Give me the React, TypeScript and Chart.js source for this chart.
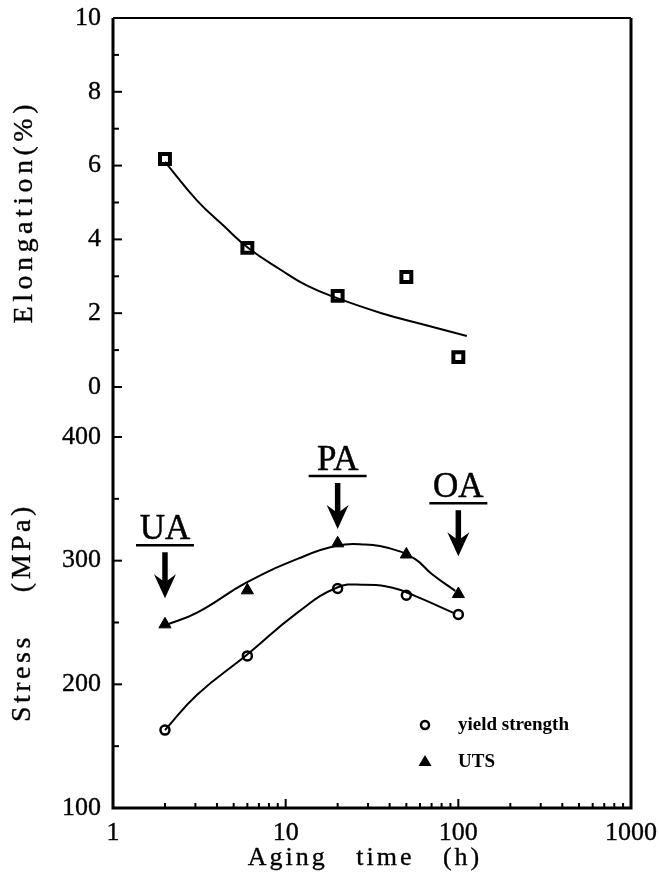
import React, { useEffect, useRef } from 'react';
import { Chart, registerables } from 'chart.js';

Chart.register(...registerables);

// ---- data ----
const agingTimes = [2, 6, 20, 50, 100];
const elongation = [6.18, 3.77, 2.47, 2.98, 0.81];
const yieldStrength = [163, 223, 277.5, 272, 256.5];
const utsValues = [248.5, 276, 314, 305, 273];

// hand-drawn trend curves
const elongFitX = [2, 3.07, 4.39, 6.1, 9.4, 13.4, 20.1, 35.9, 64.3, 112];
const elongFitY = [6.1, 5.05, 4.36, 3.76, 3.17, 2.74, 2.4, 2.0, 1.68, 1.38];
const utsFitX = [2, 3.07, 5.95, 11.7, 19.9, 28.7, 41.1, 56, 70.2, 95.9];
const utsFitY = [247.7, 258, 282.4, 301.4, 312.2, 313, 309.5, 301.4, 289.2, 275.6];
const yieldFitX = [2, 3.07, 5.99, 11.7, 19.9, 28.7, 41.1, 56, 95.9];
const yieldFitY = [163, 191.6, 224.1, 258, 278.3, 280.5, 278.3, 271.5, 257.2];

// tick labels
const xTickValues = [1, 10, 100, 1000];
const elongTickValues = [0, 2, 4, 6, 8, 10];
const stressTickValues = [100, 200, 300, 400];

// ageing stage annotations
const stageLabels = ['UA', 'PA', 'OA'];
const stageTimes = [2, 20, 100];
const stageLabelStress = [327, 383, 361];

const toXY = (xs: number[], ys: number[]) => xs.map((x, i) => ({ x, y: ys[i] }));

const SERIF = '"Liberation Serif", "Times New Roman", serif';

function heavyText(ctx: CanvasRenderingContext2D, s: string, x: number, y: number, w = 0.35) {
  ctx.fillText(s, x, y);
  ctx.save();
  ctx.lineWidth = w;
  ctx.lineJoin = 'round';
  ctx.strokeText(s, x, y);
  ctx.restore();
}

const decorPlugin = {
  id: 'decor',
  afterDraw(chart: any) {
    const ctx: CanvasRenderingContext2D = chart.ctx;
    const { left, right, top, bottom } = chart.chartArea;
    const xs = chart.scales.x;
    const yE = chart.scales.yE;
    const yS = chart.scales.yS;
    ctx.save();
    ctx.strokeStyle = '#000';
    ctx.fillStyle = '#000';
    ctx.lineCap = 'butt';

    // frame
    ctx.lineWidth = 2;
    ctx.beginPath();
    ctx.moveTo(left, top);
    ctx.lineTo(right, top);
    ctx.stroke();
    ctx.lineWidth = 3;
    ctx.beginPath();
    ctx.moveTo(right, top);
    ctx.lineTo(right, bottom);
    ctx.lineTo(left, bottom);
    ctx.lineTo(left, top);
    ctx.stroke();

    // left ticks (inward)
    ctx.lineWidth = 2;
    for (let v = 0; v <= 10; v += 1) {
      const y = yE.getPixelForValue(v);
      const len = v % 2 === 0 ? 9 : 6;
      ctx.beginPath();
      ctx.moveTo(left, y);
      ctx.lineTo(left + len, y);
      ctx.stroke();
    }
    for (let v = 100; v <= 400; v += 50) {
      const y = yS.getPixelForValue(v);
      const len = v % 100 === 0 ? 9 : 6;
      ctx.beginPath();
      ctx.moveTo(left, y);
      ctx.lineTo(left + len, y);
      ctx.stroke();
    }
    // bottom ticks (inward)
    for (const d of [1, 10, 100]) {
      for (let m = 1; m <= 9; m++) {
        const v = d * m;
        if (v <= 1) continue;
        const x = xs.getPixelForValue(v);
        const len = m === 1 ? 9 : 5;
        ctx.beginPath();
        ctx.moveTo(x, bottom);
        ctx.lineTo(x, bottom - len);
        ctx.stroke();
      }
    }

    // tick labels
    ctx.font = `26px ${SERIF}`;
    ctx.textAlign = 'right';
    ctx.textBaseline = 'middle';
    elongTickValues.forEach((v) => heavyText(ctx, String(v), left - 12, yE.getPixelForValue(v)));
    stressTickValues.forEach((v) => heavyText(ctx, String(v), left - 12, yS.getPixelForValue(v)));
    ctx.textAlign = 'center';
    xTickValues.forEach((v) => heavyText(ctx, String(v), xs.getPixelForValue(v), bottom + 25));

    // axis titles
    (ctx as any).letterSpacing = '3px';
    heavyText(ctx, 'Aging   time   (h)', (left + right) / 2 - 7, bottom + 50);
    ctx.font = `28px ${SERIF}`;
    (ctx as any).letterSpacing = '4.5px';
    ctx.save();
    ctx.translate(25, yE.getPixelForValue(4.75));
    ctx.rotate(-Math.PI / 2);
    heavyText(ctx, 'Elongation(%)', 0, 0);
    ctx.restore();
    (ctx as any).letterSpacing = '3.5px';
    ctx.save();
    ctx.translate(23, yS.getPixelForValue(258));
    ctx.rotate(-Math.PI / 2);
    heavyText(ctx, 'Stress    (MPa)', 0, 0);
    ctx.restore();
    (ctx as any).letterSpacing = '0px';

    // stage annotations
    ctx.font = `35px ${SERIF}`;
    stageLabels.forEach((lab, i) => {
      const cx = xs.getPixelForValue(stageTimes[i]);
      const ly = yS.getPixelForValue(stageLabelStress[i]);
      ctx.textAlign = 'center';
      ctx.textBaseline = 'alphabetic';
      heavyText(ctx, lab, cx, ly + 12, 0.5);
      ctx.lineWidth = 2.5;
      ctx.beginPath();
      ctx.moveTo(cx - 29, ly + 18);
      ctx.lineTo(cx + 29, ly + 18);
      ctx.stroke();
      // arrow
      const y1 = ly + 25;
      const y2 = ly + 71;
      ctx.lineWidth = 5.5;
      ctx.beginPath();
      ctx.moveTo(cx, y1);
      ctx.lineTo(cx, y2 - 14);
      ctx.stroke();
      ctx.beginPath();
      ctx.moveTo(cx - 11, y2 - 24);
      ctx.lineTo(cx, y2);
      ctx.lineTo(cx + 11, y2 - 24);
      ctx.lineTo(cx, y2 - 16);
      ctx.closePath();
      ctx.fill();
    });

    // legend
    ctx.font = `bold 19px ${SERIF}`;
    ctx.textAlign = 'left';
    ctx.textBaseline = 'middle';
    ctx.lineWidth = 2.5;
    ctx.beginPath();
    ctx.arc(425, 725, 4, 0, Math.PI * 2);
    ctx.stroke();
    ctx.fillText('yield strength', 458, 725);
    ctx.beginPath();
    ctx.moveTo(425, 755);
    ctx.lineTo(431.5, 766);
    ctx.lineTo(418.5, 766);
    ctx.closePath();
    ctx.fill();
    ctx.fillText('UTS', 458, 762);

    ctx.restore();
  },
};

export default function App() {
  const ref = useRef<HTMLCanvasElement | null>(null);
  useEffect(() => {
    if (!ref.current) return;
    const fitLine = { showLine: true, pointRadius: 0, borderColor: '#000', borderWidth: 2, tension: 0.45 };
    const chart = new Chart(ref.current, {
      type: 'scatter',
      data: {
        datasets: [
          { label: 'Elongation fit', data: toXY(elongFitX, elongFitY), yAxisID: 'yE', ...fitLine },
          {
            label: 'Elongation',
            data: toXY(agingTimes, elongation),
            yAxisID: 'yE',
            pointStyle: 'rect',
            pointRadius: 7,
            pointBorderWidth: 4,
            pointBackgroundColor: '#fff',
            pointBorderColor: '#000',
          },
          { label: 'UTS fit', data: toXY(utsFitX, utsFitY), yAxisID: 'yS', ...fitLine },
          { label: 'yield fit', data: toXY(yieldFitX, yieldFitY), yAxisID: 'yS', ...fitLine },
          {
            label: 'UTS',
            data: toXY(agingTimes, utsValues),
            yAxisID: 'yS',
            pointStyle: 'triangle',
            pointRadius: 7,
            pointBorderWidth: 1,
            pointBackgroundColor: '#000',
            pointBorderColor: '#000',
          },
          {
            label: 'yield strength',
            data: toXY(agingTimes, yieldStrength),
            yAxisID: 'yS',
            pointStyle: 'circle',
            pointRadius: 4.5,
            pointBorderWidth: 2.5,
            pointBackgroundColor: '#fff',
            pointBorderColor: '#000',
          },
        ],
      } as any,
      options: {
        responsive: false,
        animation: false,
        layout: { padding: { left: 113, right: 28, top: 18, bottom: 74 } },
        plugins: { legend: { display: false }, tooltip: { enabled: false } },
        scales: {
          x: { type: 'logarithmic', min: 1, max: 1000, display: false },
          yE: { type: 'linear', min: -11.41, max: 10, display: false },
          yS: { type: 'linear', min: 100, max: 738.8, display: false },
        },
      } as any,
      plugins: [decorPlugin],
    });
    return () => chart.destroy();
  }, []);
  return (
    <div style={{ position: 'absolute', left: 0, top: 0, width: 659, height: 882, background: '#fff' }}>
      <canvas ref={ref} width={659} height={882} style={{ display: 'block' }} />
    </div>
  );
}
